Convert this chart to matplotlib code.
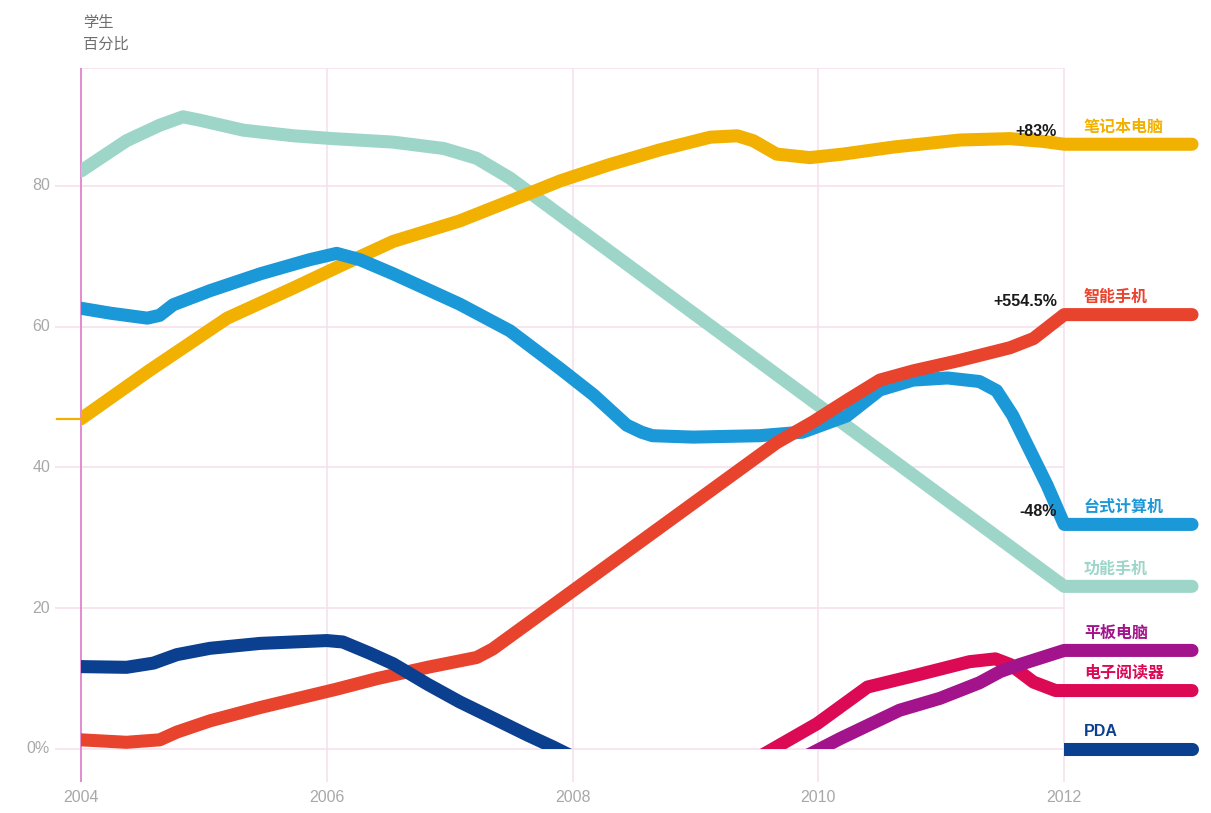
import matplotlib
matplotlib.use("Agg")
import matplotlib.pyplot as plt
from matplotlib.patches import Rectangle

# ---------------- data ----------------
feature_x = [2004.0, 2004.37, 2004.64, 2004.83, 2004.97, 2005.32, 2005.73, 2006.05,
             2006.54, 2006.95, 2007.22, 2007.49, 2012.0]
feature_y = [82.1, 86.4, 88.6, 89.8, 89.3, 87.9, 87.1, 86.7, 86.2, 85.3, 83.9, 81.1, 23.1]

laptop_x = [2004.0, 2004.56, 2005.19, 2005.73, 2006.13, 2006.54, 2007.08, 2007.63, 2007.90,
            2008.30, 2008.71, 2009.12, 2009.34, 2009.47, 2009.66, 2009.93, 2010.20, 2010.61,
            2011.15, 2011.56, 2011.83, 2012.0]
laptop_y = [46.9, 53.8, 61.2, 65.5, 68.8, 72.1, 75.0, 78.8, 80.7, 83.0, 85.1, 86.9, 87.1,
            86.4, 84.5, 84.0, 84.5, 85.5, 86.5, 86.7, 86.3, 85.9]

desktop_x = [2004.0, 2004.24, 2004.54, 2004.64, 2004.75, 2005.05, 2005.46, 2005.86, 2006.08,
             2006.27, 2006.54, 2007.08, 2007.49, 2007.90, 2008.17, 2008.44, 2008.56, 2008.65,
             2008.98, 2009.52, 2009.87, 2010.23, 2010.50, 2010.77, 2011.05, 2011.31, 2011.45,
             2011.58, 2011.86, 2012.0]
desktop_y = [62.6, 61.9, 61.2, 61.6, 63.1, 65.1, 67.5, 69.5, 70.4, 69.5, 67.5, 63.2, 59.4,
             54.0, 50.3, 46.0, 45.0, 44.5, 44.3, 44.5, 45.0, 47.3, 51.0, 52.4, 52.7, 52.2,
             50.9, 47.4, 37.5, 31.9]

smart_x = [2004.0, 2004.37, 2004.64, 2004.78, 2005.05, 2005.46, 2006.08, 2006.41, 2006.82,
           2007.22, 2007.35, 2009.66, 2009.96, 2010.23, 2010.50, 2010.77, 2011.15, 2011.56,
           2011.75, 2012.0]
smart_y = [1.3, 0.95, 1.3, 2.4, 4.0, 5.9, 8.5, 10.0, 11.6, 13.0, 14.2, 43.5, 46.5, 49.5,
           52.4, 53.7, 55.2, 57.0, 58.3, 61.7]

pda_x = [2004.0, 2004.37, 2004.59, 2004.78, 2005.05, 2005.46, 2006.0, 2006.13, 2006.35,
         2006.54, 2006.82, 2007.08, 2007.35, 2007.63, 2007.84, 2008.14]
pda_y = [11.7, 11.6, 12.2, 13.4, 14.3, 15.0, 15.4, 15.2, 13.6, 12.1, 9.2, 6.7, 4.4, 2.0, 0.3, -2.3]
pda_end = 0.0

ereader_x = [2009.48, 2009.99, 2010.40, 2010.80, 2011.23, 2011.44, 2011.56, 2011.75, 2011.93, 2012.0]
ereader_y = [-1.5, 3.6, 8.8, 10.5, 12.4, 12.8, 12.0, 9.5, 8.3, 8.3]

tablet_x = [2009.89, 2010.18, 2010.66, 2010.99, 2011.31, 2011.48, 2011.64, 2012.0]
tablet_y = [-1.1, 1.5, 5.5, 7.2, 9.4, 11.0, 12.0, 14.0]

names = ["笔记本电脑", "智能手机", "台式计算机", "功能手机", "平板电脑", "电子阅读器", "PDA"]
changes = {"笔记本电脑": "+83%", "智能手机": "+554.5%", "台式计算机": "-48%"}

y_ticks = [0, 20, 40, 60, 80]
y_tick_labels = ["0%", "20", "40", "60", "80"]
x_ticks = [2004, 2006, 2008, 2010, 2012]
x_tick_labels = ["2004", "2006", "2008", "2010", "2012"]

# ---------------- styling ----------------
colors = {
    "笔记本电脑": "#F2B100",
    "智能手机": "#E8432D",
    "台式计算机": "#1B98D8",
    "功能手机": "#9DD6C9",
    "平板电脑": "#A3138B",
    "电子阅读器": "#DC0A55",
    "PDA": "#0B3F8F",
}
GRID = "#F6E0EC"
AXIS = "#E38BCF"
TICK = "#A8A8A8"
LW = 9.4
X_END = 2013.04
CJK = ["Noto Sans CJK SC", "DejaVu Sans"]
LAT = ["Liberation Sans", "DejaVu Sans"]

fig = plt.figure(figsize=(12.11, 8.13), dpi=100)
ax = fig.add_axes([55 / 1211, (813 - 782) / 813, 1150 / 1211, 714 / 813])
XL = (2003.7884, 2013.1457)
YL = (-4.69, 96.73)
ax.set_xlim(*XL)
ax.set_ylim(*YL)
ax.axis("off")

# grid
for y in y_ticks:
    ax.plot([XL[0], 2012], [y, y], color=GRID, lw=1.2, zorder=1, solid_capstyle="butt")
ax.plot([2004, 2012], [YL[1], YL[1]], color=GRID, lw=1.2, zorder=1)
for x in x_ticks[1:]:
    ax.plot([x, x], [YL[0], YL[1]], color=GRID, lw=1.2, zorder=1)
ax.plot([2004, 2004], [YL[0], YL[1]], color=AXIS, lw=1.4, zorder=1)

# tick labels
for y, lab in zip(y_ticks, y_tick_labels):
    ax.text(2003.788 - 0.04, y, lab, ha="right", va="center", fontsize=11.5,
            color=TICK, family=LAT, clip_on=False)
for x, lab in zip(x_ticks, x_tick_labels):
    ax.text(x, -6.95, lab, ha="center", va="center", fontsize=11.5,
            color=TICK, family=LAT, clip_on=False)

# axis title
fig.text(83 / 1211, 1 - 22 / 813, "学生", ha="left", va="center", fontsize=11,
         color="#6E6E6E", family=CJK)
fig.text(83 / 1211, 1 - 44 / 813, "百分比", ha="left", va="center", fontsize=11,
         color="#6E6E6E", family=CJK)

clip_rect = Rectangle((2004, 0), 10, 200, transform=ax.transData, facecolor="none",
                      edgecolor="none")


def draw(xs, ys, color, z):
    ln, = ax.plot(list(xs) + [X_END], list(ys) + [ys[-1]], color=color, lw=LW,
                  solid_capstyle="round", solid_joinstyle="round", zorder=z)
    ln.set_clip_path(clip_rect)
    return ln


series = [
    ("功能手机", feature_x, feature_y),
    ("笔记本电脑", laptop_x, laptop_y),
    ("台式计算机", desktop_x, desktop_y),
    ("智能手机", smart_x, smart_y),
    ("电子阅读器", ereader_x, ereader_y),
    ("平板电脑", tablet_x, tablet_y),
]
for i, (nm, xs, ys) in enumerate(series):
    draw(xs, ys, colors[nm], 3 + i)

# PDA: early part (clipped at zero) and tail from 2012
ln, = ax.plot(pda_x, pda_y, color=colors["PDA"], lw=LW, solid_capstyle="round",
              solid_joinstyle="round", zorder=9)
ln.set_clip_path(clip_rect)
tail, = ax.plot([2012, X_END], [pda_end, pda_end], color=colors["PDA"], lw=LW,
                solid_capstyle="round", zorder=9)
tail.set_clip_path(Rectangle((2012, -10), 2, 20, transform=ax.transData,
                             facecolor="none", edgecolor="none"))

# small start tick for laptops
ax.plot([XL[0] + 0.015, 2004], [laptop_y[0], laptop_y[0]], color=colors["笔记本电脑"],
        lw=1.6, zorder=2, clip_on=False)

# end labels
end_values = {
    "笔记本电脑": laptop_y[-1], "智能手机": smart_y[-1], "台式计算机": desktop_y[-1],
    "功能手机": feature_y[-1], "平板电脑": tablet_y[-1], "电子阅读器": ereader_y[-1],
    "PDA": pda_end,
}
for nm in names:
    v = end_values[nm]
    ax.text(2012.16, v + 2.5, nm, ha="left", va="center", fontsize=11.5, fontweight="bold",
            color=colors[nm], family=CJK if nm != "PDA" else LAT, zorder=12)
    if nm in changes:
        ax.text(2011.94, v + 1.8, changes[nm], ha="right", va="center", fontsize=11.5,
                fontweight="bold", color="#1A1A1A", family=LAT, zorder=12)

fig.savefig("out.png", dpi=100, facecolor="white")
